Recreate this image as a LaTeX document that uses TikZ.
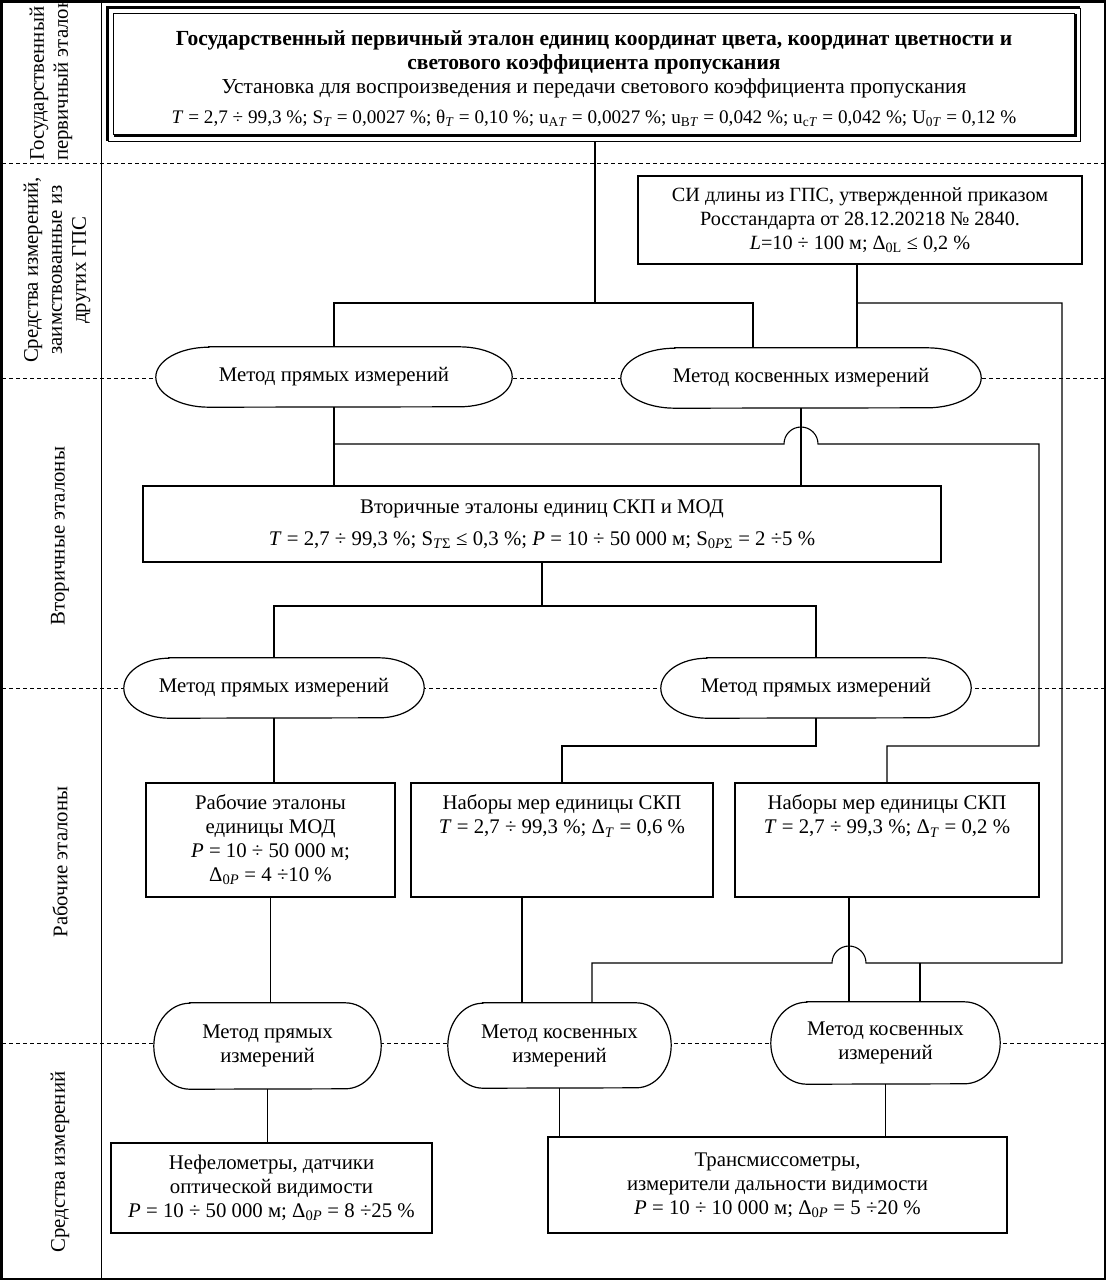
\documentclass[tikz,border=0pt]{standalone}
\usepackage{fontspec}
\setmainfont{Liberation Serif}
\usetikzlibrary{calc}
\pgfdeclarelayer{bg}\pgfdeclarelayer{mid}\pgfsetlayers{bg,mid,main}
\newcommand\sbs[1]{\textsubscript{#1}}
\newcommand\termout[3]{\draw[ovalline] ([xshift=#2]#1.north west) -- ([xshift=-#2]#1.north east) arc[start angle=90,end angle=-90,x radius=#2,y radius=#3] -- ([xshift=#2]#1.south west) arc[start angle=270,end angle=90,x radius=#2,y radius=#3] -- cycle;}
\begin{document}
\begin{tikzpicture}[x=1pt,y=-1pt,
  every node/.style={font=\fontsize{20.8}{24}\selectfont, inner sep=0pt},
  boxst/.style={draw, line width=1.6pt, align=center},
  termst/.style={align=center},
  conn/.style={line width=1.1pt},
  dashline/.style={line width=1pt, dash pattern=on 4pt off 3pt},
  ovalline/.style={line width=1.2pt, fill=white},
  lab/.style={rotate=90, align=center}]
\useasboundingbox (0,0) rectangle (1106,1280);
% frame
\draw[line width=2.5pt] (1.25,1.25) rectangle (1104.75,1278.75);
\draw[line width=1pt] (101,0) -- (101,1280);
\begin{pgfonlayer}{bg}
\draw[dashline] (2,163) -- (1104,163);
\draw[dashline] (2,378) -- (1104,378);
\draw[dashline] (2,688) -- (1104,688);
\draw[dashline] (2,1043) -- (1104,1043);
\end{pgfonlayer}
% left labels
\node[lab, align=left, anchor=west] (l1) at (51,161) {Государственный\\первичный эталон};
\node[lab] (l2) at (57,270) {Средства измерений,\\заимствованные из\\других ГПС};
\node[lab] (l3) at (60,536) {Вторичные эталоны};
\node[lab] (l4) at (60,862) {Рабочие эталоны};
\node[lab] (l5) at (60,1162) {Средства измерений};
% top box
\node[minimum width=972, minimum height=133, align=center, font=\fontsize{21.3}{24}\selectfont] (top) at (594,74.5)
 {\rule{0pt}{23pt}\textbf{\fontsize{21.5}{24}\selectfont Государственный первичный эталон единиц координат цвета, координат цветности и}\\
  \textbf{\fontsize{21.5}{24}\selectfont светового коэффициента пропускания}\\
  Установка для воспроизведения и передачи светового коэффициента пропускания\\[6pt]
  {\fontsize{19.2}{24}\selectfont\textit{T} = 2,7 ÷ 99,3 \%; S\sbs{\textit{T}} = 0,0027 \%; θ\sbs{\textit{T}} = 0,10 \%; u\sbs{A\textit{T}} = 0,0027 \%; u\sbs{B\textit{T}} = 0,042 \%; u\sbs{c\textit{T}} = 0,042 \%; U\sbs{0\textit{T}} = 0,12 \%}};
\draw[line width=3pt] (top.south west) -- (top.north west) -- (top.north east);
\draw[line width=1pt] (top.north east) -- (top.south east) -- (top.south west);
\draw[line width=1pt] ([shift={(6pt,6pt)}]top.south west) -- ([shift={(6pt,-6pt)}]top.north west) -- ([shift={(-5pt,-6pt)}]top.north east);
\draw[line width=3pt] ([shift={(-5pt,-6pt)}]top.north east) -- ([shift={(-5pt,6pt)}]top.south east) -- ([shift={(6pt,6pt)}]top.south west);
% CI box
\node[boxst, minimum width=444, minimum height=88, font=\fontsize{20.2}{24}\selectfont] (ci) at (860,220)
 {СИ длины из ГПС, утвержденной приказом\\Росстандарта от 28.12.20218 № 2840.\\\textit{L}=10 ÷ 100 м; Δ\sbs{0L} ≤ 0,2 \%};
% ovals row 1
\node[termst, minimum width=356, minimum height=60] (o1) at (334,377) {Метод прямых измерений};
\node[termst, minimum width=360, minimum height=60] (o2) at (801,378) {Метод косвенных измерений};
% secondary
\node[boxst, minimum width=798, minimum height=76] (sec) at (542,524)
 {Вторичные эталоны единиц СКП и МОД\\[8pt]
  \textit{T} = 2,7 ÷ 99,3 \%; S\sbs{\textit{T}Σ} ≤ 0,3 \%; \textit{P} = 10 ÷ 50 000 м; S\sbs{0\textit{P}Σ} = 2 ÷5 \%};
% ovals row 2
\node[termst, minimum width=300, minimum height=60] (o3) at (274,688) {Метод прямых измерений};
\node[termst, minimum width=310, minimum height=60] (o4) at (816,688) {Метод прямых измерений};
% working standards
\node[boxst, minimum width=249, minimum height=114] (bA) at (270.5,840)
 {Рабочие эталоны\\единицы МОД\\\textit{P} = 10 ÷ 50 000 м;\\Δ\sbs{0\textit{P}} = 4 ÷10 \%};
\node[boxst, minimum width=302, minimum height=114] (bB) at (562,840)
 {\parbox[c][90pt][t]{295pt}{\centering Наборы мер единицы СКП\\\textit{T} = 2,7 ÷ 99,3 \%; Δ\sbs{\textit{T}} = 0,6 \%}};
\node[boxst, minimum width=304, minimum height=114] (bC) at (887,840)
 {\parbox[c][90pt][t]{295pt}{\centering Наборы мер единицы СКП\\\textit{T} = 2,7 ÷ 99,3 \%; Δ\sbs{\textit{T}} = 0,2 \%}};
% ovals row 3
\node[termst, minimum width=227, minimum height=86] (oA) at (267.5,1046) {Метод прямых\\измерений};
\node[termst, minimum width=223, minimum height=85] (oB) at (559.5,1045.5) {Метод косвенных\\измерений};
\node[termst, minimum width=229, minimum height=82] (oC) at (885.5,1043) {Метод косвенных\\измерений};
% instruments
\node[boxst, minimum width=321, minimum height=90] (bD) at (271.5,1188)
 {Нефелометры, датчики\\оптической видимости\\\textit{P} = 10 ÷ 50 000 м; Δ\sbs{0\textit{P}} = 8 ÷25 \%};
\node[boxst, minimum width=459, minimum height=96] (bE) at (777.5,1185)
 {Трансмиссометры,\\измерители дальности видимости\\\textit{P} = 10 ÷ 10 000 м; Δ\sbs{0\textit{P}} = 5 ÷20 \%};
% oval outlines
\begin{pgfonlayer}{mid}
\termout{o1}{53pt}{30pt}
\termout{o2}{54pt}{30pt}
\termout{o3}{45pt}{30pt}
\termout{o4}{46pt}{30pt}
\termout{oA}{36pt}{43pt}
\termout{oB}{35pt}{42.5pt}
\termout{oC}{36pt}{41pt}
\end{pgfonlayer}
% helper coordinates
\coordinate (jt) at (595,303);
\coordinate (xa) at (753,0);
\coordinate (jci) at (857,303);
\coordinate (r1) at (1062,303);
\coordinate (r1b) at (1062,963);
\coordinate (h1) at (801,444);
\coordinate (r2) at (1039,444);
\coordinate (r2b) at (1039,746);
\coordinate (j3) at (542,606);
\coordinate (j4) at (816,746);
\coordinate (xb) at (522,0);
\coordinate (xc) at (849,0);
\coordinate (h2) at (849,963);
\coordinate (xd) at (592,0);
\coordinate (j5) at (920,963);
% connectors
\draw[conn] (top.south -| jt) -- (jt);
\draw[conn] (o1.north) |- (jt) -| (o2.north -| xa);
\draw[conn] (ci.south -| jci) -- (o2.north -| jci);
\draw[conn] (o1.south) -- (o1.south |- sec.north);
\draw[conn] (o2.south) -- (o2.south |- sec.north);
\draw[conn] (o1.south |- h1) -- ([xshift=-17pt]h1) arc[start angle=180,end angle=0,radius=17pt] -- (r2) -- (r2b) -| (bC.north);
\draw[conn] (sec.south) -- (j3);
\draw[conn] (o3.north) |- (j3) -| (o4.north);
\draw[conn] (o3.south) -- (o3.south |- bA.north);
\draw[conn] (o4.south) -- (j4) -| (bB.north);
\draw[conn] (bA.south) -- (bA.south |- oA.north);
\draw[conn] (bB.south -| xb) -- (oB.north -| xb);
\draw[conn] (bC.south -| xc) -- (oC.north -| xc);
\draw[conn] (jci) -- (r1) -- (r1b) -- ([xshift=17pt]h2) arc[start angle=0,end angle=180,radius=17pt] -- (h2 -| xd) -- (oB.north -| xd);
\draw[conn] (j5) -- (oC.north -| j5);
\draw[conn] (oA.south) -- (oA.south |- bD.north);
\draw[conn] (oB.south) -- (oB.south |- bE.north);
\draw[conn] (oC.south) -- (oC.south |- bE.north);
\end{tikzpicture}
\end{document}
